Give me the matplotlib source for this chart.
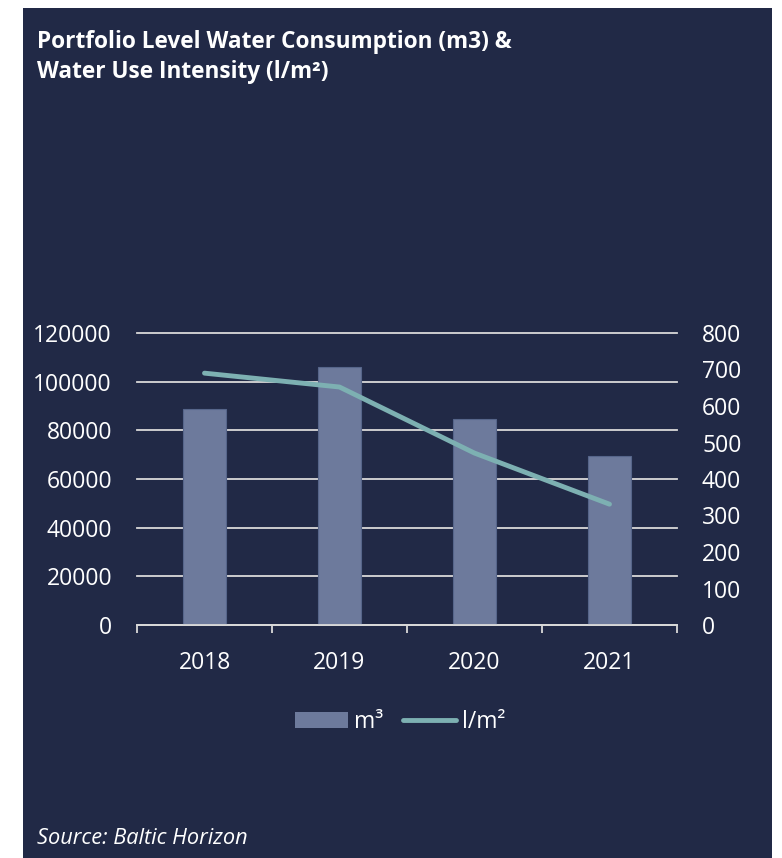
import matplotlib.pyplot as plt
import numpy as np
from matplotlib.patches import Rectangle, Patch
from matplotlib.lines import Line2D

years = ["2018", "2019", "2020", "2021"]
water_m3 = [88800, 106000, 84700, 69500]
intensity = [690, 652, 471, 331]

BG = "#212946"
BAR = "#6D7A9C"
LINE = "#7DB0B2"
GRID = "#D9D9D9"
FONT = "Open Sans"
FS = 16.5

W, H = 782, 858
fig = plt.figure(figsize=(W / 100, H / 100), dpi=100)
fig.patch.set_facecolor("white")
fig.patches.append(Rectangle((23 / W, 0), (772 - 23) / W, (858 - 8) / H,
                             transform=fig.transFigure, facecolor=BG,
                             edgecolor="none", zorder=-10))

ax = fig.add_axes([137 / W, (H - 625) / H, (677 - 137) / W, (625 - 333) / H])
ax.set_facecolor("none")
x = np.arange(len(years))
ax.bar(x, water_m3, width=0.32, color=BAR, edgecolor="#56658A", linewidth=0.8, zorder=2)
ax.set_xlim(-0.5, 3.5)
ax.set_ylim(0, 120000)
ax.set_yticks(np.arange(0, 120001, 20000))
ax.grid(axis="y", color=GRID, linewidth=1.3, zorder=0)
ax.set_axisbelow(True)
for gl in ax.get_ygridlines():
    gl.set_clip_on(False)
for s in ["top", "right", "left"]:
    ax.spines[s].set_visible(False)
ax.spines["bottom"].set_color(GRID)
ax.spines["bottom"].set_linewidth(1.3)
ax.set_xticks(x)
ax.set_xticklabels(years)
ax.set_xticks(np.arange(-0.5, 3.6, 1), minor=True)
ax.tick_params(axis="x", which="major", length=0, pad=19, labelsize=FS, labelcolor="white")
ax.tick_params(axis="x", which="minor", length=6, width=1.3, color=GRID)
ax.tick_params(axis="y", length=0, pad=18, labelsize=FS, labelcolor="white")
for lab in ax.get_xticklabels() + ax.get_yticklabels():
    lab.set_fontfamily(FONT)

ax2 = ax.twinx()
ax2.plot(x, intensity, color=LINE, linewidth=3.5, solid_capstyle="round",
         solid_joinstyle="round", zorder=3)
ax2.set_ylim(0, 800)
ax2.set_yticks(np.arange(0, 801, 100))
for s in ["top", "right", "left", "bottom"]:
    ax2.spines[s].set_visible(False)
ax2.tick_params(axis="y", length=0, pad=18, labelsize=FS, labelcolor="white")
for lab in ax2.get_yticklabels():
    lab.set_fontfamily(FONT)

fig.text(37 / W, 1 - 48 / H, "Portfolio Level Water Consumption (m3) &",
         color="white", fontsize=16.3, fontweight="bold", fontfamily=FONT,
         va="baseline", ha="left")
fig.text(37 / W, 1 - 78 / H, "Water Use Intensity (l/m²)",
         color="white", fontsize=16.3, fontweight="bold", fontfamily=FONT,
         va="baseline", ha="left")

handles = [Patch(facecolor=BAR, edgecolor="none"),
           Line2D([0], [0], color=LINE, linewidth=3.5, solid_capstyle="round")]
leg = fig.legend(handles, ["m³", "l/m²"], loc="center", bbox_to_anchor=(400 / W, 1 - 722 / H),
                 ncol=2, frameon=False, prop={"family": FONT, "size": FS},
                 labelcolor="white", handlelength=2.3, handletextpad=0.26, columnspacing=0.87)

fig.text(37 / W, 1 - 844 / H, "Source: Baltic Horizon", color="white", fontsize=15.7,
         fontstyle="italic", fontfamily=FONT, va="baseline", ha="left")

fig.savefig("out.png", dpi=100, facecolor=fig.get_facecolor())
